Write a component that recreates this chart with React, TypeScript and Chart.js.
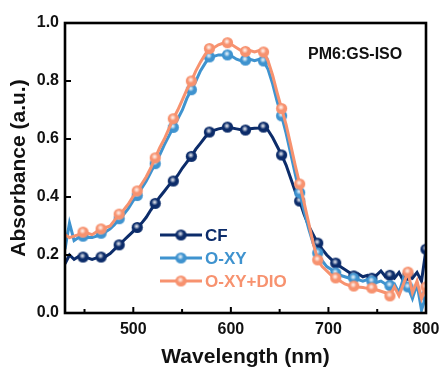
import React, { useEffect, useRef } from "react";
import { Chart, registerables } from "chart.js";

Chart.register(...registerables);

const wavelengths = [
  430, 434.6, 439.3, 443.9, 448.5, 453.1, 457.8, 462.4, 467, 471.6,
  476.3, 480.9, 485.5, 490.1, 494.8, 499.4, 504, 508.6, 513.3, 517.9,
  522.5, 527.1, 531.8, 536.4, 541, 545.6, 550.3, 554.9, 559.5, 564.1,
  568.8, 573.4, 578, 582.6, 587.3, 591.9, 596.5, 601.1, 605.8, 610.4,
  615, 619.6, 624.3, 628.9, 633.5, 638.1, 642.8, 647.4, 652, 656.6,
  661.3, 665.9, 670.5, 675.1, 679.8, 684.4, 689, 693.6, 698.3, 702.9,
  707.5, 712.1, 716.8, 721.4, 726, 730.6, 735.3, 739.9, 744.5, 749.1,
  753.8, 758.4, 763, 767.6, 772.3, 776.9, 781.5, 786.1, 790.8, 795.4,
  800,
];

const cfValues = [
  0.17, 0.2, 0.185, 0.195, 0.193, 0.19, 0.185, 0.19, 0.193, 0.195,
  0.205, 0.22, 0.235, 0.25, 0.265, 0.28, 0.295, 0.31, 0.33, 0.355,
  0.378, 0.4, 0.42, 0.44, 0.455, 0.475, 0.5, 0.52, 0.54, 0.565,
  0.585, 0.605, 0.624, 0.63, 0.635, 0.638, 0.641, 0.638, 0.635, 0.632,
  0.631, 0.635, 0.637, 0.638, 0.641, 0.63, 0.605, 0.575, 0.545, 0.51,
  0.465, 0.42, 0.386, 0.34, 0.3, 0.27, 0.241, 0.22, 0.2, 0.185,
  0.172, 0.16, 0.15, 0.14, 0.128, 0.135, 0.125, 0.13, 0.12, 0.13,
  0.145, 0.125, 0.13, 0.12, 0.14, 0.11, 0.13, 0.12, 0.14, 0.11,
  0.22,
];

const oxyValues = [
  0.22, 0.31, 0.25, 0.26, 0.265, 0.26, 0.26, 0.265, 0.275, 0.28,
  0.29, 0.305, 0.325, 0.34, 0.36, 0.385, 0.405, 0.43, 0.455, 0.485,
  0.515, 0.545, 0.58, 0.61, 0.64, 0.67, 0.7, 0.74, 0.77, 0.8,
  0.835, 0.86, 0.883, 0.885, 0.89, 0.89, 0.89, 0.885, 0.875, 0.87,
  0.872, 0.875, 0.87, 0.875, 0.869, 0.84, 0.79, 0.73, 0.68, 0.62,
  0.55, 0.48, 0.415, 0.35, 0.29, 0.24, 0.207, 0.18, 0.16, 0.15,
  0.138, 0.13, 0.125, 0.12, 0.12, 0.115, 0.11, 0.115, 0.11, 0.105,
  0.11, 0.1, 0.095, 0.1, 0.07, 0.12, 0.09, 0.05, 0.1, 0.01,
  0.06,
];

const oxyDioValues = [
  0.27, 0.26, 0.265, 0.27, 0.279, 0.275, 0.27, 0.28, 0.29, 0.295,
  0.3, 0.32, 0.341, 0.355, 0.375, 0.4, 0.421, 0.445, 0.47, 0.5,
  0.535, 0.57, 0.6, 0.635, 0.67, 0.7, 0.735, 0.77, 0.8, 0.835,
  0.865, 0.89, 0.912, 0.915, 0.925, 0.93, 0.932, 0.925, 0.915, 0.905,
  0.902, 0.905, 0.9, 0.905, 0.9, 0.87, 0.82, 0.76, 0.705, 0.65,
  0.58, 0.51, 0.445, 0.38, 0.31, 0.24, 0.183, 0.16, 0.145, 0.13,
  0.121, 0.11, 0.1, 0.095, 0.093, 0.09, 0.088, 0.085, 0.086, 0.08,
  0.075, 0.07, 0.059, 0.09, 0.06, 0.1, 0.141, 0.07, 0.11, 0.05,
  0.09,
];

const seriesNames = ["CF", "O-XY", "O-XY+DIO"];
const seriesColors = ["#0c2c6a", "#3f93cf", "#f7926f"];
const xMajorTicks = [500, 600, 700, 800];
const xMinorTicks = [450, 550, 650, 750];
const yTicks = [0, 0.2, 0.4, 0.6, 0.8, 1.0];
const annotationText = "PM6:GS-ISO";
const xTitle = "Wavelength (nm)";
const yTitle = "Absorbance (a.u.)";

const FONT = "'Liberation Sans', Arial, sans-serif";

function makeSphere(color: string): HTMLCanvasElement {
  const c = document.createElement("canvas");
  c.width = 13;
  c.height = 13;
  const g = c.getContext("2d")!;
  const cx = 6.5, cy = 6.5, r = 5.6;
  g.beginPath();
  g.arc(cx, cy, r, 0, Math.PI * 2);
  g.fillStyle = color;
  g.fill();
  const grad = g.createRadialGradient(cx - 0.6, cy - 1.2, 0, cx - 0.6, cy - 1.2, 3.2);
  grad.addColorStop(0, "rgba(255,255,255,0.95)");
  grad.addColorStop(0.45, "rgba(255,255,255,0.55)");
  grad.addColorStop(1, "rgba(255,255,255,0)");
  g.beginPath();
  g.arc(cx, cy, r, 0, Math.PI * 2);
  g.fillStyle = grad;
  g.fill();
  return c;
}

export default function App() {
  const ref = useRef<HTMLCanvasElement>(null);

  useEffect(() => {
    if (!ref.current) return;
    const spheres = seriesColors.map(makeSphere);
    const valueSets = [cfValues, oxyValues, oxyDioValues];

    const framePlugin = {
      id: "frameTicks",
      afterDraw(chart: any) {
        const ctx = chart.ctx;
        const a = chart.chartArea;
        const xs = chart.scales.x, ys = chart.scales.y;
        ctx.save();
        ctx.strokeStyle = "#000000";
        ctx.lineWidth = 2.6;
        ctx.strokeRect(a.left, a.top, a.right - a.left, a.bottom - a.top);
        ctx.lineWidth = 2;
        ctx.beginPath();
        xMajorTicks.forEach((v) => {
          const px = xs.getPixelForValue(v);
          ctx.moveTo(px, a.bottom);
          ctx.lineTo(px, a.bottom - 6);
        });
        xMinorTicks.forEach((v) => {
          const px = xs.getPixelForValue(v);
          ctx.moveTo(px, a.bottom);
          ctx.lineTo(px, a.bottom - 4);
        });
        yTicks.forEach((v) => {
          const py = ys.getPixelForValue(v);
          ctx.moveTo(a.left, py);
          ctx.lineTo(a.left + 6, py);
        });
        ctx.stroke();

        // annotation
        ctx.fillStyle = "#111";
        ctx.font = `bold 16px ${FONT}`;
        ctx.textAlign = "left";
        ctx.textBaseline = "middle";
        ctx.fillText(annotationText, 308, 55);
        // legend
        seriesNames.forEach((name, i) => {
          const y = 235 + i * 23;
          ctx.strokeStyle = seriesColors[i];
          ctx.lineWidth = 3.2;
          ctx.beginPath();
          ctx.moveTo(160, y);
          ctx.lineTo(202, y);
          ctx.stroke();
          const s = spheres[i];
          ctx.drawImage(s, 181 - s.width / 2, y - s.height / 2);
          ctx.fillStyle = seriesColors[i];
          ctx.font = `bold 17px ${FONT}`;
          ctx.textAlign = "left";
          ctx.textBaseline = "middle";
          ctx.fillText(name, 205, y + 1);
        });
        // axis titles
        ctx.fillStyle = "#111";
        ctx.font = `bold 21px ${FONT}`;
        ctx.textAlign = "center";
        ctx.textBaseline = "middle";
        ctx.fillText(xTitle, (a.left + a.right) / 2, 357);
        ctx.translate(19, (a.top + a.bottom) / 2);
        ctx.rotate(-Math.PI / 2);
        ctx.fillText(yTitle, 0, 0);
        ctx.restore();
      },
    };

    const datasets = seriesNames.map((name, i) => ({
      label: name,
      data: wavelengths.map((w, k) => ({ x: w, y: valueSets[i][k] })),
      borderColor: seriesColors[i],
      backgroundColor: seriesColors[i],
      borderWidth: 3,
      tension: 0,
      order: 3 - i,
      pointStyle: spheres[i],
      pointRadius: (c: any) => (c.dataIndex > 0 && c.dataIndex % 4 === 0 ? 5 : 0),
      pointHoverRadius: 0,
    }));

    const chart = new Chart(ref.current, {
      type: "line",
      data: { datasets },
      options: {
        animation: false,
        responsive: false,
        layout: { padding: { left: 0, right: 18, top: 23, bottom: 0 } },
        plugins: { legend: { display: false }, tooltip: { enabled: false } },
        scales: {
          x: {
            type: "linear",
            min: 430,
            max: 800,
            grid: { display: false, drawTicks: false },
            border: { display: false },
            afterBuildTicks: (scale: any) => {
              scale.ticks = [...xMinorTicks, ...xMajorTicks]
                .sort((p, q) => p - q)
                .map((v) => ({ value: v }));
            },
            afterFit: (scale: any) => {
              scale.height = 59;
              scale.paddingLeft = 0;
              scale.paddingRight = 0;
            },
            ticks: {
              autoSkip: false,
              maxRotation: 0,
              padding: 7,
              color: "#111",
              font: { family: FONT, size: 16, weight: "bold" },
              callback: (v: any) => (xMajorTicks.includes(Number(v)) ? String(v) : ""),
            },
          },
          y: {
            min: 0,
            max: 1,
            grid: { display: false, drawTicks: false },
            border: { display: false },
            afterBuildTicks: (scale: any) => {
              scale.ticks = yTicks.map((v) => ({ value: v }));
            },
            afterFit: (scale: any) => {
              scale.width = 65;
            },
            ticks: {
              padding: 6,
              color: "#111",
              font: { family: FONT, size: 16, weight: "bold" },
              callback: (v: any) => Number(v).toFixed(1),
            },
          },
        },
      },
      plugins: [framePlugin],
    });
    return () => chart.destroy();
  }, []);

  return (
    <div style={{ position: "fixed", left: 0, top: 0, width: 444, height: 372, background: "#fff" }}>
      <canvas ref={ref} width={444} height={372} style={{ width: 444, height: 372 }} />
    </div>
  );
}
